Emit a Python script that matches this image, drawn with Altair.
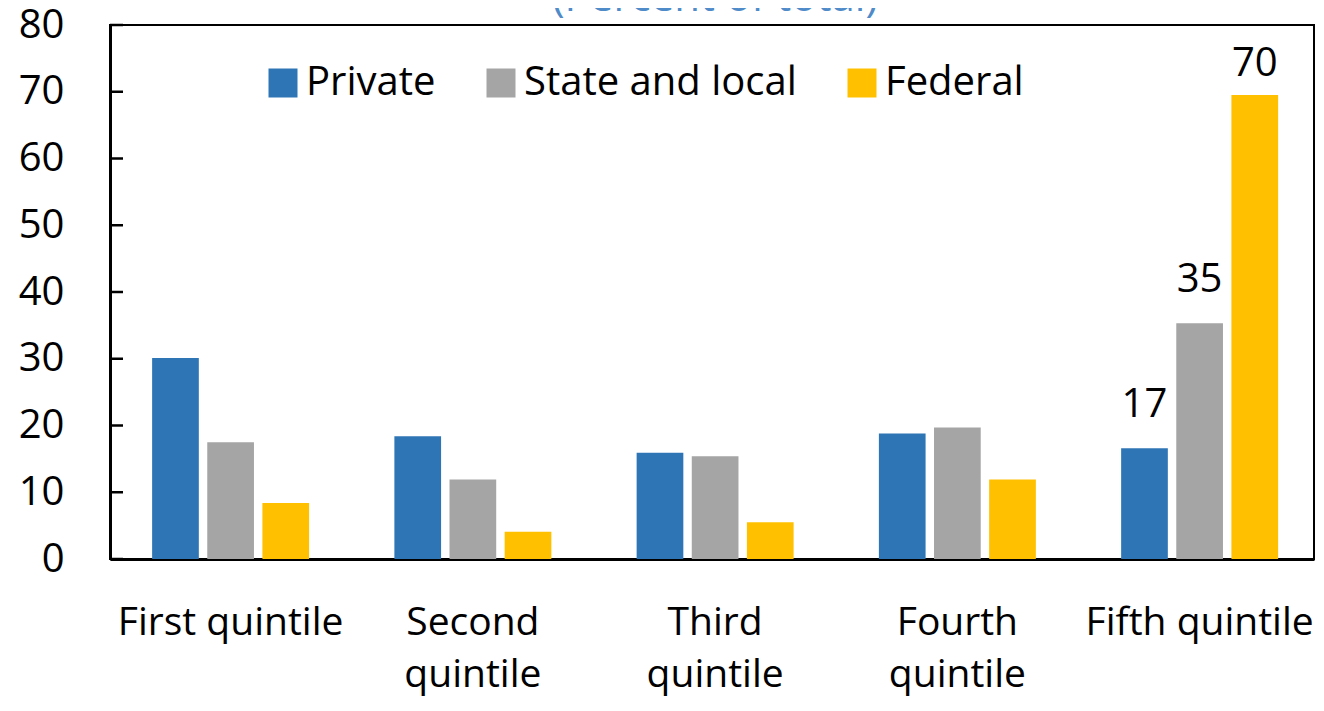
import altair as alt
import pandas as pd

categories = ["First quintile", "Second quintile", "Third quintile", "Fourth quintile", "Fifth quintile"]
series = ["Private", "State and local", "Federal"]
private = [30.1, 18.4, 15.9, 18.8, 16.6]
state_local = [17.5, 11.9, 15.4, 19.7, 35.3]
federal = [8.4, 4.1, 5.5, 11.9, 69.5]
fifth_labels = ["17", "35", "70"]
colors = ["#2E75B6", "#A5A5A5", "#FFC000"]
y_ticks = [0, 10, 20, 30, 40, 50, 60, 70, 80]
wrapped = ["Second quintile", "Third quintile", "Fourth quintile"]
title_text = "(Percent of total)"

rows = []
for s, vals in zip(series, [private, state_local, federal]):
    for c, v in zip(categories, vals):
        lab = fifth_labels[series.index(s)] if c == "Fifth quintile" else ""
        rows.append({"category": c, "series": s, "value": v, "label": lab})
df = pd.DataFrame(rows)

FONT = "Open Sans"
FS = 40

x_enc = alt.X(
    "category:N", sort=categories, title=None,
    scale=alt.Scale(paddingInner=0.352, paddingOuter=0.161, align=0.54),
    axis=alt.Axis(
        labelAngle=0, labelFontSize=39, labelPadding=44, ticks=False, tickSize=0,
        labelLimit=400, labelOverlap=False, labelLineHeight=52, labelColor="black",
        domainColor="black", domainWidth=3,
        labelExpr="indexof(" + str(wrapped) + ", datum.value) >= 0 ? split(datum.value, ' ') : datum.value",
    ),
)
xo_enc = alt.XOffset("series:N", sort=series, scale=alt.Scale(paddingInner=0.153))
y_enc = alt.Y(
    "value:Q", title=None,
    scale=alt.Scale(domain=[0, 80], nice=False),
    axis=alt.Axis(values=y_ticks, labelFontSize=FS, labelPadding=46, ticks=False, tickSize=0,
                  grid=False, labelColor="black", domainColor="black", domainWidth=3),
)

bars = alt.Chart(df).mark_bar().encode(
    x=x_enc,
    xOffset=xo_enc,
    y=y_enc,
    color=alt.Color(
        "series:N", sort=series,
        scale=alt.Scale(domain=series, range=colors),
        legend=alt.Legend(
            orient="none", legendX=153, legendY=38, direction="horizontal", title=None,
            padding=0,
            symbolType="square", symbolSize=841, symbolStrokeWidth=0, symbolOpacity=1,
            labelFontSize=FS, labelOffset=3, columnPadding=45, labelLimit=400,
            labelColor="black",
        ),
    ),
)

labels_low = alt.Chart(df).transform_filter(
    "datum.label != '' && datum.value < 60"
).mark_text(fontSize=FS, dy=-31, baseline="alphabetic", color="black").encode(
    x=x_enc, xOffset=xo_enc, y=y_enc, text="label:N"
)
labels_high = alt.Chart(df).transform_filter(
    "datum.label != '' && datum.value >= 60"
).mark_text(fontSize=FS, dy=-19, baseline="alphabetic", color="black").encode(
    x=x_enc, xOffset=xo_enc, y=y_enc, text="label:N"
)

ticks = alt.Chart(pd.DataFrame({"value": y_ticks})).mark_rule(
    color="black", strokeWidth=2.5
).encode(y=alt.Y("value:Q"), x=alt.value(0), x2=alt.value(13))

title = alt.Chart(pd.DataFrame({"t": [title_text]})).mark_text(
    fontSize=42, color="#4F8BC9", baseline="alphabetic", align="center"
).encode(text="t:N", x=alt.value(605), y=alt.value(-14))

chart = alt.layer(bars, labels_low, labels_high, ticks, title).properties(
    width=1204, height=534,
    autosize=alt.AutoSizeParams(type="none"),
    padding={"left": 102, "top": 17, "right": 2, "bottom": 139},
).configure(font=FONT).configure_view(
    stroke="black", strokeWidth=2
).configure_axis(grid=False)

chart.save("out.html", embed_options={"renderer": "svg", "actions": False})
